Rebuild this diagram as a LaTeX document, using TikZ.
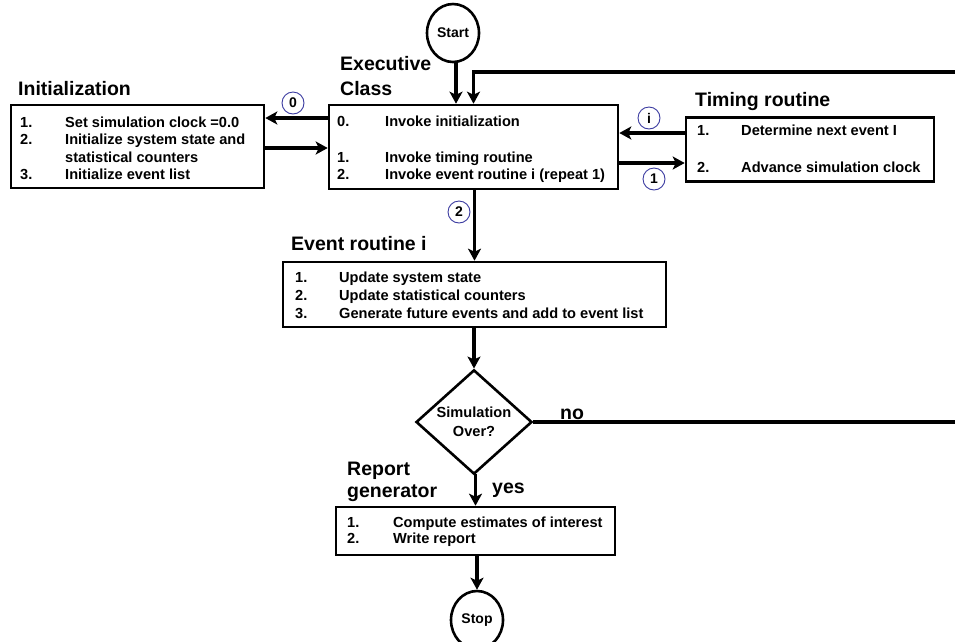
\documentclass[tikz,border=0pt]{standalone}
\usepackage{fontspec}
\setmainfont{Liberation Sans}
\usetikzlibrary{arrows.meta,shapes.geometric}
\definecolor{numblue}{HTML}{3A3AA0}
\begin{document}
\begin{tikzpicture}[x=1pt,y=-1pt,
  boxst/.style={draw,line width=2.6pt,rectangle,inner sep=0pt},
  arr/.style={line width=3.6pt,-{Stealth[length=12pt,width=13pt,inset=3pt]}},
  plain/.style={line width=3.6pt},
  txt/.style={anchor=base west,inner sep=0pt,font=\fontsize{14.6}{16}\selectfont\bfseries},
  lbl/.style={anchor=base west,inner sep=0pt,font=\fontsize{19.5}{22}\selectfont\bfseries},
  term/.style={draw,line width=2.6pt,ellipse,minimum width=52pt,minimum height=58pt,inner sep=0pt,font=\fontsize{14}{16}\selectfont\bfseries},
  tag/.style={draw=numblue,line width=0.9pt,circle,minimum size=22pt,inner sep=0pt,font=\fontsize{14}{15}\selectfont\bfseries}
]
\useasboundingbox (0,0) rectangle (955,641);

% nodes
\node[term] (start) at (453,33) {Start};
\node[boxst,minimum width=289pt,minimum height=84pt] (exec) at (473.5,147) {};
\node[boxst,minimum width=253pt,minimum height=83pt] (init) at (137.5,146.5) {};
\node[boxst,minimum width=248pt,minimum height=64pt] (timing) at (810,149.5) {};
\node[boxst,minimum width=383pt,minimum height=65pt] (event) at (474.5,294.5) {};
\node[draw,line width=2.6pt,diamond,minimum width=116pt,minimum height=98pt,inner sep=0pt,align=center,font=\fontsize{14.6}{19}\selectfont\bfseries] (dec) at (474,422) {Simulation\\Over?};
\node[boxst,minimum width=279pt,minimum height=48pt] (report) at (475.5,531) {};
\node[term] (stop) at (477,620) {Stop};

% labels
\node[lbl] (lexec1) at (340,70) {Executive};
\node[lbl] (lexec2) at (340,95) {Class};
\node[lbl] (linit) at (18,95) {Initialization};
\node[lbl] (ltim) at (695,106) {Timing routine};
\node[lbl] (levt) at (291,250) {Event routine i};
\node[lbl] (lrep1) at (347,475) {Report};
\node[lbl] (lrep2) at (347,497) {generator};
\node[lbl] (lyes) at (492,493) {yes};
\node[lbl] (lno) at (560,419) {no};

% initialization text
\node[txt] (i1n) at (20,127) {1.};
\node[txt] (i1t) at (65,127) {Set simulation clock =0.0};
\node[txt] (i2n) at (20,144) {2.};
\node[txt] (i2t) at (65,144) {Initialize system state and};
\node[txt] (i2u) at (65,162) {statistical counters};
\node[txt] (i3n) at (20,179) {3.};
\node[txt] (i3t) at (65,179) {Initialize event list};

% executive text
\node[txt] (e0n) at (337,126) {0.};
\node[txt] (e0t) at (385,126) {Invoke initialization};
\node[txt] (e1n) at (337,162) {1.};
\node[txt] (e1t) at (385,162) {Invoke timing routine};
\node[txt] (e2n) at (337,179) {2.};
\node[txt] (e2t) at (385,179) {Invoke event routine i (repeat 1)};

% timing text
\node[txt] (t1n) at (697,135) {1.};
\node[txt] (t1t) at (741,135) {Determine next event I};
\node[txt] (t2n) at (697,172) {2.};
\node[txt] (t2t) at (741,172) {Advance simulation clock};

% event text
\node[txt] (v1n) at (295,282) {1.};
\node[txt] (v1t) at (339,282) {Update system state};
\node[txt] (v2n) at (295,300) {2.};
\node[txt] (v2t) at (339,300) {Update statistical counters};
\node[txt] (v3n) at (295,318) {3.};
\node[txt] (v3t) at (339,318) {Generate future events and add to event list};

% report text
\node[txt] (r1n) at (347,527) {1.};
\node[txt] (r1t) at (393,527) {Compute estimates of interest};
\node[txt] (r2n) at (347,543) {2.};
\node[txt] (r2t) at (393,543) {Write report};

% connectors
\draw[arr] ([xshift=3pt]start.south) -- ([xshift=3pt]start.south |- exec.north);
\coordinate (loopR) at (955,72);
\coordinate (noR) at (955,422);
\draw[arr] (loopR) -| (exec.north);
\draw[arr] (exec.west |- 0,118) -- (init.east |- 0,118);
\draw[arr] (init.east |- 0,148) -- (exec.west |- 0,148);
\draw[arr] (timing.west |- 0,133) -- (exec.east |- 0,133);
\draw[arr] (exec.east |- 0,163) -- (timing.west |- 0,163);
\draw[arr] (exec.south -| event.north) -- (event.north);
\draw[arr] (event.south -| dec.north) -- (dec.north);
\draw[plain] (dec.east) -- (noR);
\draw[arr] (dec.south) -- (dec.south -| report.north) -- (report.north);
\draw[arr] (report.south -| stop.north) -- (stop.north);

% tags
\node[tag] (tag0) at (293,103) {0};
\node[tag] (tagi) at (649,118) {i};
\node[tag] (tag1) at (654,179) {1};
\node[tag] (tag2) at (459,212) {2};
\end{tikzpicture}
\end{document}
